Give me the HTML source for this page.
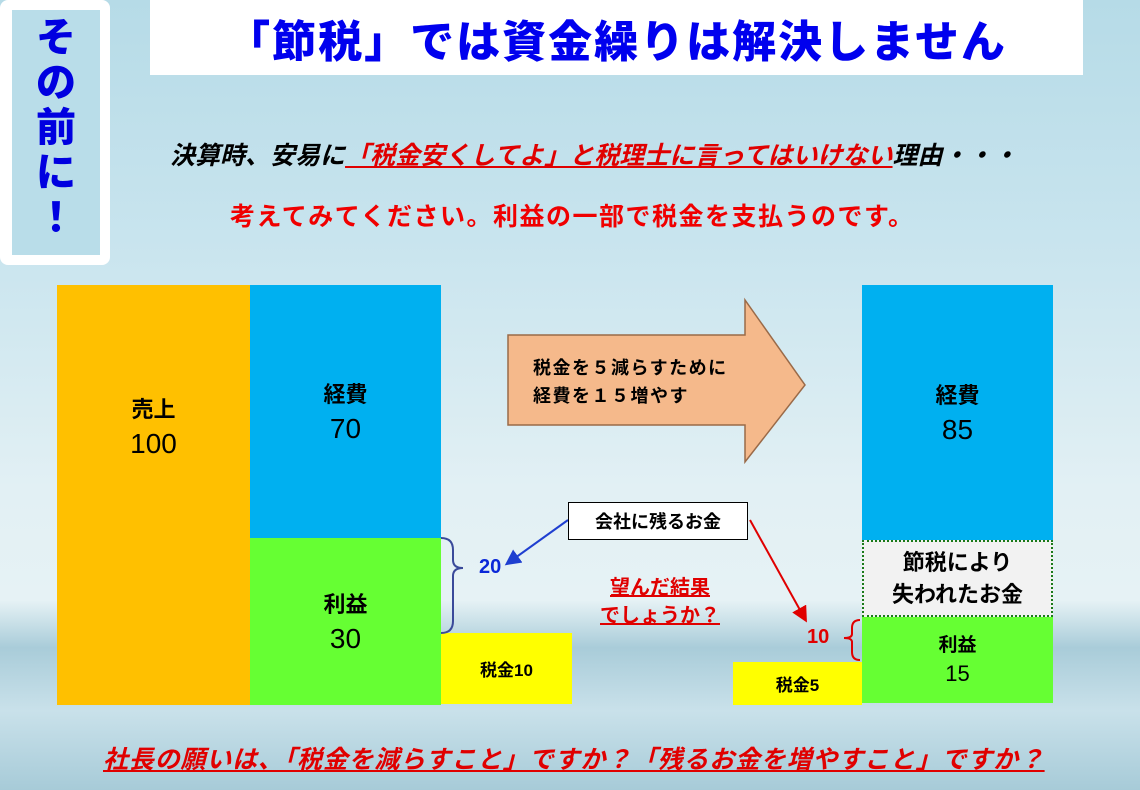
<!DOCTYPE html>
<html><head><meta charset="utf-8"><style>
body{margin:0}
#p{position:relative;width:1140px;height:790px;overflow:hidden;font-family:"Liberation Sans","Noto Sans CJK JP",sans-serif;font-weight:bold;
background:linear-gradient(180deg,#b6dbe7 0%,#c8e4ee 30%,#e2f0f4 62%,#e6f2f5 76%,#a9ccd9 82%,#c9e1ea 90%,#a7cbd8 100%);}
.a{position:absolute}
.c{display:flex;align-items:center;justify-content:center;text-align:center;flex-direction:column}
</style></head><body><div id="p">
<div class="a" style="left:0;top:0;width:110px;height:265px;background:#fff;border-radius:8px"></div>
<div class="a" style="left:12px;top:10px;width:88px;height:245px;background:#b9dde9"></div>
<div class="a" style="left:12px;top:16px;width:88px;text-align:center;color:#0000e0;font-size:40px;line-height:45px;font-weight:900">そ<br>の<br>前<br>に<br>！</div>
<div class="a c" style="left:150px;top:0;width:933px;height:75px;background:#fff;color:#0000ee;font-size:44px;font-weight:900;letter-spacing:2px;white-space:nowrap">「節税」では資金繰りは解決しません</div>
<div class="a" style="left:170px;top:136px;width:880px;font-size:25px;letter-spacing:0px;font-style:italic;color:#000;white-space:nowrap">決算時、安易に<span style="color:#e00000;text-decoration:underline">「税金安くしてよ」と税理士に言ってはいけない</span>理由・・・</div>
<div class="a" style="left:230px;top:197px;font-size:25px;letter-spacing:1.5px;color:#f00000;white-space:nowrap">考えてみてください。利益の一部で税金を支払うのです。</div>
<div class="a" style="left:57px;top:285px;width:193px;height:420px;background:#ffc000"></div>
<div class="a" style="left:57px;top:393px;width:193px;text-align:center;font-size:22px;line-height:34px">売上<br><span style="font-weight:normal;font-size:28px">100</span></div>
<div class="a c" style="left:250px;top:285px;width:191px;height:253px;background:#00b0f0;font-size:22px;line-height:34px">経費<br><span style="font-weight:normal;font-size:28px">70</span></div>
<div class="a c" style="left:250px;top:538px;width:191px;height:167px;background:#66ff33;font-size:22px;line-height:34px">利益<br><span style="font-weight:normal;font-size:28px">30</span></div>
<div class="a c" style="left:441px;top:633px;width:131px;height:71px;background:#ffff00;font-size:17px">税金10</div>
<div class="a c" style="left:862px;top:285px;width:191px;height:255px;background:#00b0f0;font-size:22px;line-height:34px">経費<br><span style="font-weight:normal;font-size:28px">85</span></div>
<div class="a c" style="left:862px;top:540px;width:187px;height:73px;background:#f2f2f2;border:2px dotted #1a7a1a;font-size:22px;line-height:32px">節税により<br>失われたお金</div>
<div class="a c" style="left:862px;top:617px;width:191px;height:86px;background:#66ff33;font-size:19px;line-height:28px">利益<br><span style="font-weight:normal;font-size:22px">15</span></div>
<div class="a c" style="left:733px;top:662px;width:129px;height:43px;background:#ffff00;font-size:17px">税金5</div>
<svg class="a" style="left:0;top:0" width="1140" height="790">
<defs><marker id="mb" markerWidth="8" markerHeight="8" refX="6" refY="4" orient="auto"><path d="M0,0L8,4L0,8z" fill="#1f3fd0"/></marker>
<marker id="mr" markerWidth="8" markerHeight="8" refX="6" refY="4" orient="auto"><path d="M0,0L8,4L0,8z" fill="#e00000"/></marker></defs>
<path d="M508,335H745V300L805,385L745,462V425H508Z" fill="#f5b98b" stroke="#9a6a48" stroke-width="1.5"/>
<path d="M441,538q12,0 12,12v10q0,8 10,8q-10,0 -10,8v45q0,12 -12,12" fill="none" stroke="#3a4a9a" stroke-width="2"/>
<path d="M860,620q-8,0 -8,8v6q0,4 -8,4q8,0 8,4v10q0,8 8,8" fill="none" stroke="#e00000" stroke-width="2"/>
<line x1="568" y1="520" x2="508" y2="563" stroke="#1f3fd0" stroke-width="2" marker-end="url(#mb)"/>
<line x1="750" y1="520" x2="805" y2="619" stroke="#e00000" stroke-width="2" marker-end="url(#mr)"/>
</svg>
<div class="a" style="left:533px;top:354px;font-size:18px;letter-spacing:1.5px;line-height:28px;white-space:nowrap">税金を５減らすために<br>経費を１５増やす</div>
<div class="a c" style="left:568px;top:502px;width:178px;height:36px;background:#fff;border:1px solid #000;font-size:18px">会社に残るお金</div>
<div class="a" style="left:479px;top:556px;font-size:20px;color:#0a28d8">20</div>
<div class="a" style="left:807px;top:626px;font-size:20px;color:#e00000">10</div>
<div class="a" style="left:590px;top:574px;width:140px;text-align:center;font-size:20px;line-height:28px;color:#e00000;text-decoration:underline">望んだ結果<br>でしょうか？</div>
<div class="a" style="left:103px;top:740px;font-size:25px;letter-spacing:0.8px;font-style:italic;color:#e00000;text-decoration:underline;white-space:nowrap">社長の願いは、「税金を減らすこと」ですか？「残るお金を増やすこと」ですか？</div>
</div></body></html>
